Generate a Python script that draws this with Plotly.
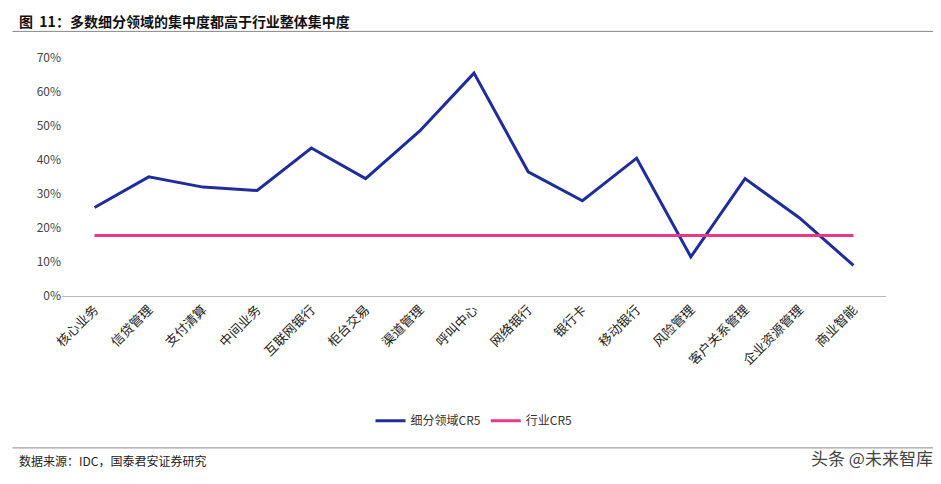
import plotly.graph_objects as go

categories = ['核心业务', '信贷管理', '支付清算', '中间业务', '互联网银行', '柜台交易', '渠道管理',
              '呼叫中心', '网络银行', '银行卡', '移动银行', '风险管理', '客户关系管理', '企业资源管理', '商业智能']
segment_cr5 = [0.26, 0.35, 0.32, 0.31, 0.435, 0.345, 0.485, 0.655, 0.365, 0.28, 0.405, 0.115, 0.345, 0.23, 0.09]
industry_cr5 = [0.178] * len(categories)

font = "Noto Sans CJK SC"

fig = go.Figure()
fig.add_trace(go.Scatter(x=categories, y=segment_cr5, mode='lines', name='细分领域CR5',
                         line=dict(color='#1f2d9c', width=3)))
fig.add_trace(go.Scatter(x=categories, y=industry_cr5, mode='lines', name='行业CR5',
                         line=dict(color='#e8388a', width=3)))

fig.update_layout(
    width=941, height=484, paper_bgcolor='white', plot_bgcolor='white',
    font=dict(family=font, size=12, color='#333'),
    margin=dict(l=54, r=63, t=43, b=196),
    showlegend=True,
    legend=dict(orientation='h', x=0.5, xanchor='center', y=-0.45, yanchor='top',
                font=dict(size=12, color='#333')),
    xaxis=dict(tickangle=-45, showline=True, linecolor='#bbb', ticks='', range=[-0.6, 14.6],
               tickfont=dict(size=13, color='#222')),
    yaxis=dict(range=[0, 0.72], tickformat='.0%', dtick=0.1, showgrid=False, showline=False,
               tickfont=dict(size=12, color='#444'), zeroline=False),
    annotations=[
        dict(text='<b>图  11：多数细分领域的集中度都高于行业整体集中度</b>', xref='paper', yref='paper',
             x=-0.055, y=1.17, xanchor='left', yanchor='top', showarrow=False,
             font=dict(size=14, color='#111')),
        dict(text='数据来源：IDC，国泰君安证券研究', xref='paper', yref='paper',
             x=-0.055, y=-0.63, xanchor='left', yanchor='top', showarrow=False,
             font=dict(size=12, color='#222')),
        dict(text='头条 @未来智库', xref='paper', yref='paper',
             x=1.06, y=-0.6, xanchor='right', yanchor='top', showarrow=False,
             font=dict(size=17, color='#444')),
    ],
    shapes=[
        dict(type='line', xref='paper', yref='paper', x0=-0.06, x1=1.07, y0=1.08, y1=1.08,
             line=dict(color='#888', width=1)),
        dict(type='line', xref='paper', yref='paper', x0=-0.06, x1=1.07, y0=-0.62, y1=-0.62,
             line=dict(color='#888', width=1)),
    ],
)

fig.write_html("out.html")
